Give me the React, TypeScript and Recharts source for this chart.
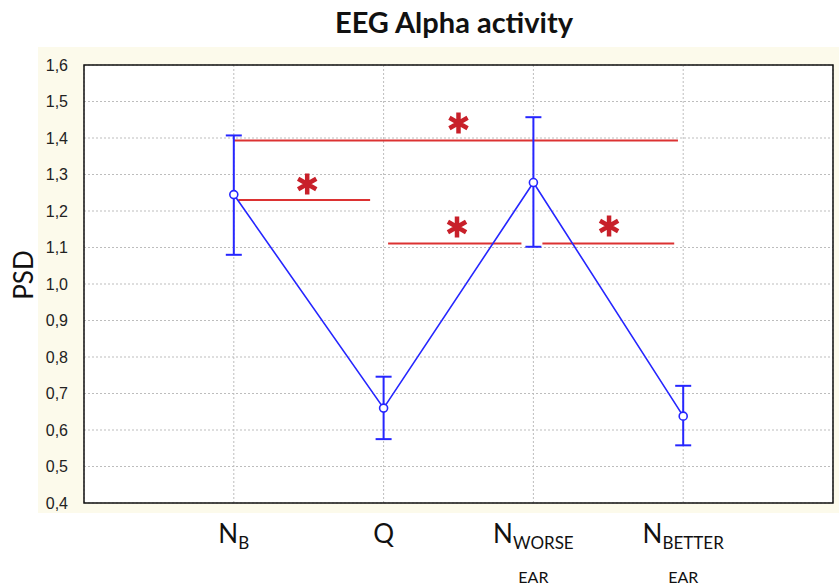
import { ComposedChart, Line, XAxis, YAxis, CartesianGrid, ErrorBar, ReferenceLine, ReferenceDot, ReferenceArea } from 'recharts'

// categories (main letter, subscript, second line)
const catMain = ['N', 'Q', 'N', 'N']
const catSub = ['B', '', 'WORSE', 'BETTER']
const catLine2 = ['', '', 'EAR', 'EAR']
const catPos = [1, 2, 3, 4]

// PSD means and error bar ends
const means = [1.245, 0.66, 1.278, 0.638]
const upper = [1.407, 0.746, 1.457, 0.721]
const lower = [1.08, 0.575, 1.102, 0.558]

const yTicks = [0.4, 0.5, 0.6, 0.7, 0.8, 0.9, 1.0, 1.1, 1.2, 1.3, 1.4, 1.5, 1.6]

// significance brackets
const sigY = [1.393, 1.23, 1.111, 1.111]
const sigFrom = [1.0, 1.03, 2.03, 3.06]
const sigTo = [3.965, 1.91, 2.92, 3.94]
const starX = [2.5, 1.49, 2.49, 3.505]
const starY = [1.441, 1.274, 1.156, 1.159]

const data = catPos.map((x, i) => ({
  x,
  mean: means[i],
  err: [means[i] - lower[i], upper[i] - means[i]],
}))

const BLUE = '#2626ff'
const RED = '#dc3232'
const LABEL_FONT = "Lato, 'Open Sans', sans-serif"

const XTick = ({ x, y, payload }: any) => {
  const i = catPos.indexOf(payload.value)
  if (i < 0) return null
  return (
    <g>
      <text x={x} y={y + 32} textAnchor="middle" fontFamily={LABEL_FONT} fontSize={26} fill="#111">
        <tspan>{catMain[i]}</tspan>
        {catSub[i] && <tspan fontSize={17} dy={6}>{catSub[i]}</tspan>}
      </text>
      {catLine2[i] && (
        <text x={x} y={y + 72} textAnchor="middle" fontFamily={LABEL_FONT} fontSize={16} fill="#111">
          {catLine2[i]}
        </text>
      )}
    </g>
  )
}

const Asterisk = ({ cx, cy }: any) => {
  const r = 10.5
  const arms = [90, 30, 150].map((a) => {
    const rad = (a * Math.PI) / 180
    const dx = r * Math.cos(rad)
    const dy = r * Math.sin(rad)
    return `M${cx - dx},${cy - dy}L${cx + dx},${cy + dy}`
  })
  return <path d={arms.join('')} stroke="#c8202a" strokeWidth={4.5} strokeLinecap="butt" fill="none" />
}

export default function App() {
  return (
    <div style={{ position: 'absolute', left: 0, top: 0, width: 839, height: 585, background: '#fff', overflow: 'hidden' }}>
      <div style={{ position: 'absolute', left: 38, top: 47, width: 801, height: 466, background: '#fcfaeb' }} />
      <div
        style={{
          position: 'absolute', left: 0, top: 4, width: 908, textAlign: 'center',
          fontFamily: LABEL_FONT, fontWeight: 'bold', fontSize: 29, color: '#111',
        }}
      >
        EEG Alpha activity
      </div>
      <div
        style={{
          position: 'absolute', left: 23, top: 275, transform: 'translate(-50%, -50%) rotate(-90deg)',
          fontFamily: LABEL_FONT, fontSize: 26, color: '#111', whiteSpace: 'nowrap',
        }}
      >
        PSD
      </div>
      <div style={{ position: 'absolute', left: 0, top: 0 }}>
        <ComposedChart width={839} height={585} data={data} margin={{ top: 65, right: 6, bottom: 0, left: 0 }}>
          <CartesianGrid stroke="#bdbdbd" strokeDasharray="2 2" fill="#fff" />
          <XAxis
            dataKey="x"
            type="number"
            domain={[0, 5]}
            ticks={catPos}
            height={82}
            axisLine={false}
            tickLine={false}
            tick={<XTick />}
            interval={0}
          />
          <YAxis
            type="number"
            domain={[0.4, 1.6]}
            ticks={yTicks}
            width={84}
            axisLine={false}
            tickLine={false}
            interval={0}
            tickMargin={10}
            tick={{ fontFamily: "'Liberation Sans', Arial, sans-serif", fontSize: 16, fill: '#222' }}
            tickFormatter={(v: number) => v.toFixed(1).replace('.', ',')}
          />
          <ReferenceArea x1={0} x2={5} y1={0.4} y2={1.6} fill="none" stroke="#111" strokeWidth={1.5} />
          {sigY.map((y, i) => (
            <ReferenceLine
              key={'s' + i}
              segment={[{ x: sigFrom[i], y }, { x: sigTo[i], y }]}
              stroke={RED}
              strokeWidth={2}
            />
          ))}
          <Line
            type="linear"
            dataKey="mean"
            stroke={BLUE}
            strokeWidth={1.6}
            dot={{ r: 4, fill: '#fff', stroke: BLUE, strokeWidth: 1.6 }}
            activeDot={false}
            isAnimationActive={false}
          >
            <ErrorBar dataKey="err" direction="y" width={8} stroke={BLUE} strokeWidth={2} />
          </Line>
          {starX.map((x, i) => (
            <ReferenceDot key={'a' + i} x={x} y={starY[i]} r={10} shape={<Asterisk />} />
          ))}
        </ComposedChart>
      </div>
    </div>
  )
}
